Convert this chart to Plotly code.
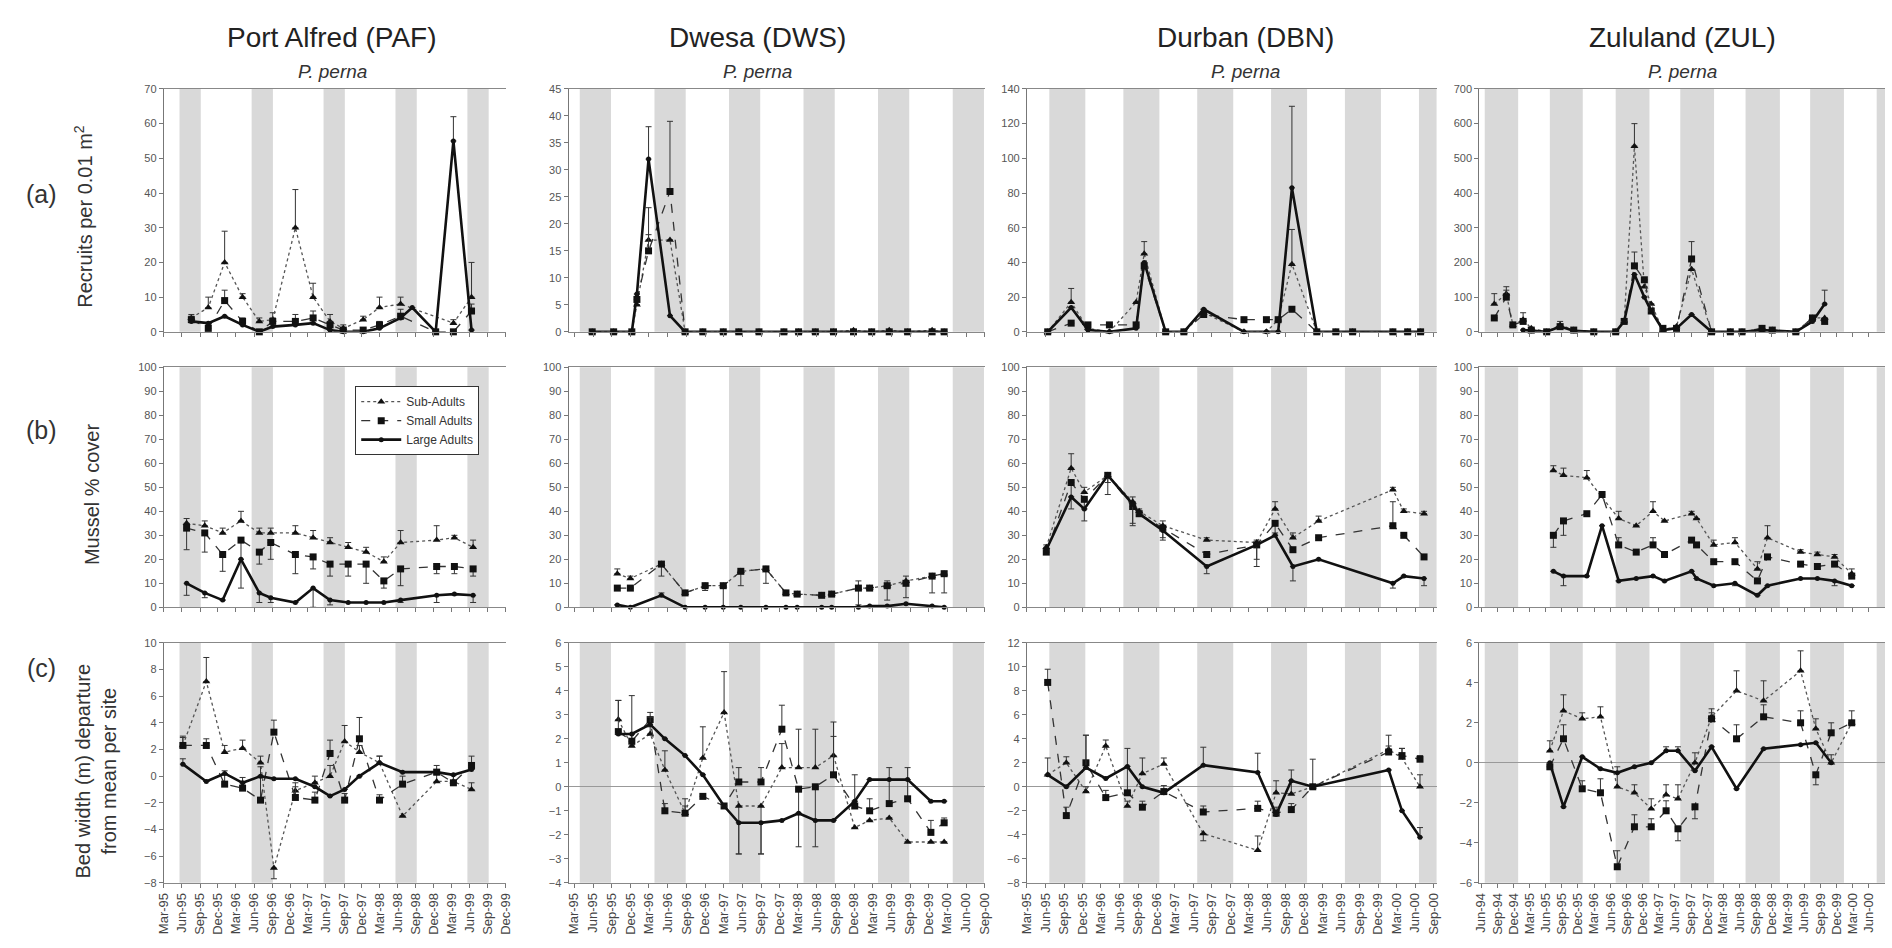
import plotly.graph_objects as go

# ------------------------------------------------------------------ text
SITES = ["Port Alfred (PAF)", "Dwesa (DWS)", "Durban (DBN)", "Zululand (ZUL)"]
SPECIES = ["P. perna", "P. perna", "P. perna", "P. perna"]
ROW_LABELS = ["(a)", "(b)", "(c)"]
Y_TITLES = ["Recruits per 0.01 m<sup>2</sup>", "Mussel % cover",
            "Bed width (m) departure<br>from mean per site"]
SERIES = ["Sub-Adults", "Small Adults", "Large Adults"]

# ------------------------------------------------------------------ x axes (per site)
X_START = ["1995-03-01", "1995-02-01", "1995-03-01", "1994-05-22"]
X_END = ["1999-12-02", "2000-09-03", "2000-09-15", "2000-08-31"]
TICK0 = ["1995-03-01", "1995-03-01", "1995-03-01", "1994-06-01"]

# shaded seasonal bands (per site)
PAF_BAND_START = ["1995-05-20", "1996-05-20", "1997-05-20", "1998-05-20", "1999-05-20"]
PAF_BAND_END = ["1995-09-05", "1996-09-05", "1997-09-05", "1998-09-05", "1999-09-05"]
DWS_BAND_START = ["1995-03-28", "1996-03-28", "1997-03-28", "1998-03-28", "1999-03-28", "2000-03-28"]
DWS_BAND_END = ["1995-08-28", "1996-08-28", "1997-08-28", "1998-08-28", "1999-08-28", "2000-08-28"]
DBN_BAND_START = ["1995-06-20", "1996-06-20", "1997-06-20", "1998-06-20", "1999-06-20", "2000-06-20"]
DBN_BAND_END = ["1995-12-15", "1996-12-15", "1997-12-15", "1998-12-15", "1999-12-15", "2000-12-15"]
ZUL_BAND_START = ["1994-06-22", "1995-06-25", "1996-07-01", "1997-07-01", "1998-07-05", "1999-07-05", "2000-07-15"]
ZUL_BAND_END = ["1994-12-28", "1995-12-28", "1997-01-08", "1998-01-08", "1999-01-15", "2000-01-12", "2001-01-10"]
BANDS = [(PAF_BAND_START, PAF_BAND_END), (DWS_BAND_START, DWS_BAND_END),
         (DBN_BAND_START, DBN_BAND_END), (ZUL_BAND_START, ZUL_BAND_END)]

# ------------------------------------------------------------------ y axes
Y_RANGES = [[(0, 70), (0, 45), (0, 140), (0, 700)],
            [(0, 100), (0, 100), (0, 100), (0, 100)],
            [(-8, 10), (-4, 6), (-8, 12), (-6, 6)]]
Y_DTICKS = [[10, 5, 20, 100], [10, 10, 10, 10], [2, 1, 2, 2]]

# ------------------------------------------------------------------ data
# errors: positive = upper bar, negative = lower bar

# ---- PAF (a) recruits
paf_a_dates = ["1995-07-19", "1995-10-13", "1996-01-04", "1996-04-04", "1996-06-28", "1996-09-04",
               "1996-12-28", "1997-03-28", "1997-06-22", "1997-08-28", "1997-12-07", "1998-02-28",
               "1998-06-15", "1998-08-13", "1998-12-10", "1999-03-10", "1999-06-10"]
paf_a_sub = [4, 7, 20, 10, 3, 3.5, 30, 10, 3, 1, 3.5, 7, 8, None, None, 2.5, 10]
paf_a_sub_err = [1, 3, 9, 1, 1, 2, 11, 4, 2, 1, 1, 3, 2, 0, 0, 1, 10]
paf_a_small = [3.5, 1, 9, 3, 0, 3, 3, 4, 2, 0.5, 0.5, 2, 4.5, None, 0, 0, 6]
paf_a_small_err = [1, 1, 3, 1, 0, 1, 2, 2, 1, 0.5, 0.5, 1, 2, 0, 0, 0, 2]
paf_a_large = [3, 2.5, 4.5, 2, 0, 1.5, 2, 2.5, 0.5, 0, 0, 1, 4, 7, 0, 55, 0.5]
paf_a_large_err = [0, 0, 0, 0, 0, 0, 0, 0, 0, 0, 0, 0, 0, 0, 0, 7, 0]

# ---- PAF (b) cover
paf_b_dates = ["1995-06-25", "1995-09-25", "1995-12-25", "1996-03-27", "1996-06-28", "1996-08-25",
               "1996-12-28", "1997-03-28", "1997-06-22", "1997-09-22", "1997-12-22", "1998-03-22",
               "1998-06-15", "1998-12-15", "1999-03-15", "1999-06-18"]
paf_b_sub = [35, 34, 31, 36, 31, 31, 31, 29, 27, 25, 23, 19, 27, 28, 29, 25]
paf_b_sub_err = [2, 2, 2, 4, 2, 2, 3, 3, 2, 2, 2, 2, 5, 6, 1, 3]
paf_b_small = [33, 31, 22, 28, 23, 27, 22, 21, 18, 18, 18, 11, 16, 17, 17, 16]
paf_b_small_err = [-9, -8, -7, -8, -5, -7, -8, -5, -5, -5, -8, -3, -7, -3, -3, -3]
paf_b_large = [10, 6, 3, 20, 6, 4, 2, 8, 3, 2, 2, 2, 3, 5, 5.5, 5]
paf_b_large_err = [-5, -2, 0, -12, -4, -2, 0, -8, -2, 0, 0, 0, -1, -3, 0, -3]

# ---- PAF (c) bed width
paf_c_dates = ["1995-06-06", "1995-10-03", "1996-01-04", "1996-04-04", "1996-07-04", "1996-09-10",
               "1996-12-28", "1997-04-06", "1997-06-22", "1997-09-04", "1997-11-18", "1998-02-28",
               "1998-06-25", "1998-12-15", "1999-03-10", "1999-06-10"]
paf_c_sub = [2.3, 7.1, 1.8, 2.1, 1.0, -6.9, -1.1, -0.5, 0.0, 2.6, 1.8, 1.0, -3.0, -0.4, -0.4, -1.0]
paf_c_sub_err = [0.6, 1.8, 0.5, 0.6, 0.5, -0.8, 0.6, 0.5, 0.8, 1.2, 0.5, 0.5, 0, 0.5, 0.5, 0.5]
paf_c_small = [2.3, 2.3, -0.6, -0.9, -1.8, 3.3, -1.6, -1.8, 1.7, -1.8, 2.8, -1.8, -0.6, 0.3, -0.5, 0.8]
paf_c_small_err = [0.7, 0.5, 1.0, 0.8, 2.5, 0.9, 0.8, 0.6, 1.0, 0.5, 1.6, 0.4, 0.6, 0.5, 0.6, 0.7]
paf_c_large = [0.9, -0.4, 0.2, -0.5, 0.0, -0.2, -0.2, -0.8, -1.5, -1.0, 0.0, 1.0, 0.3, 0.3, 0.1, 0.5]
paf_c_large_err = [0.4, 0, 0, 0, 0, 0, 0, 0, 0, 0, 0, 0.5, 0, 0, 0, 0]

# ---- DWS (a) recruits
dws_a_dates = ["1995-05-28", "1995-09-10", "1995-12-08", "1996-01-02", "1996-02-28", "1996-06-12",
               "1996-08-25", "1996-11-20", "1997-02-28", "1997-05-15", "1997-08-22", "1997-12-22",
               "1998-03-04", "1998-05-25", "1998-08-22", "1998-11-28", "1999-02-25", "1999-05-22",
               "1999-08-20", "1999-12-18", "2000-02-15"]
dws_a_sub = [0, 0, 0, 5, 17, 17, 0, 0, 0, 0, 0, 0, 0, 0, 0, 0.3, 0, 0.3, 0, 0.3, 0]
dws_a_sub_err = [0, 0, 0, 0, 6, 0, 0, 0, 0, 0, 0, 0, 0, 0, 0, 0, 0, 0, 0, 0, 0]
dws_a_small = [0, 0, 0, 6, 15, 26, 0, 0, 0, 0, 0, 0, 0, 0, 0, 0, 0, 0, 0, 0, 0]
dws_a_small_err = [0, 0, 0, 0, 3, 13, 0, 0, 0, 0, 0, 0, 0, 0, 0, 0, 0, 0, 0, 0, 0]
dws_a_large = [0, 0, 0, 7, 32, 3, 0, 0, 0, 0, 0, 0, 0, 0, 0, 0, 0, 0, 0, 0, 0]
dws_a_large_err = [0, 0, 0, 0, 6, 0, 0, 0, 0, 0, 0, 0, 0, 0, 0, 0, 0, 0, 0, 0, 0]

# ---- DWS (b) cover
dws_b_dates = ["1995-09-28", "1995-12-01", "1996-05-01", "1996-08-25", "1996-12-01", "1997-02-28",
               "1997-05-25", "1997-09-25", "1998-01-01", "1998-02-25", "1998-06-25", "1998-08-13",
               "1998-12-22", "1999-02-15", "1999-05-12", "1999-08-12", "1999-12-18", "2000-02-15"]
dws_b_sub = [14, 12, 18, 6, 9, 9, 15, 16, 6, 5.5, 5, 5.5, 8, 8, 9, 11, 13, 14]
dws_b_sub_err = [2, 1, 1, 0, 1, 0, 0, 0, 0, 0, 0, 0, 3, 0, 2, 2, 1, 1]
dws_b_small = [8, 8, 18, 6, 9, 9, 15, 16, 6, 5.5, 5, 5.5, 8, 8, 9, 10, 13, 14]
dws_b_small_err = [0, 0, -5, 0, -2, -9, -6, -6, 0, 0, 0, 0, -7, 0, -6, -6, -7, -8]
dws_b_large = [1, 0, 5, 0, 0, 0, 0, 0, 0, 0, 0, 0, 0, 0.5, 0.5, 1.5, 0.5, 0]
dws_b_large_err = [0, 0, 1, 0, 0, 0, 0, 0, 0, 0, 0, 0, 0, 0, 0, 0, 0, 0]

# ---- DWS (c) bed width
dws_c_dates = ["1995-10-03", "1995-12-08", "1996-03-07", "1996-05-18", "1996-08-25", "1996-11-20",
               "1997-03-04", "1997-05-15", "1997-09-01", "1997-12-12", "1998-03-04", "1998-05-25",
               "1998-08-22", "1998-12-04", "1999-02-15", "1999-05-22", "1999-08-20", "1999-12-12",
               "2000-02-15"]
dws_c_sub = [2.8, 1.7, 2.2, 0.7, -1.1, 1.2, 3.1, -0.8, -0.8, 0.8, 0.8, 0.8, 1.3, -1.7, -1.4, -1.3,
             -2.3, -2.3, -2.3]
dws_c_sub_err = [0.8, 0.5, 0.3, 0.8, 0.3, 1.3, 1.7, -2.0, -2.0, 1.0, 1.6, 1.6, 1.4, 0, 0, 0, 0, 0, 0]
dws_c_small = [2.3, 1.9, 2.8, -1.0, -1.1, -0.4, -0.8, 0.2, 0.2, 2.4, -0.1, 0.0, 0.5, -0.8, -1.0,
               -0.7, -0.5, -1.9, -1.5]
dws_c_small_err = [1.3, 1.9, 0.3, 0.3, 0.6, 0, 0, 0.6, 0.6, 1.0, -2.4, -2.5, 1.6, 1.3, 0.5, 1.5,
                   1.3, 0.5, 0.2]
dws_c_large = [2.2, 2.2, 2.6, 2.0, 1.3, 0.5, -0.8, -1.5, -1.5, -1.4, -1.1, -1.4, -1.4, -0.6, 0.3,
               0.3, 0.3, -0.6, -0.6]
dws_c_large_err = [0, 0, 0.3, 0, 0, 0, 0, -1.3, -1.3, 0, 0, 0, 0, 0, 0, 0, 0, 0, 0]

# ---- DBN (a) recruits
dbn_a_dates = ["1995-06-12", "1995-10-06", "1995-12-28", "1996-04-12", "1996-08-22", "1996-10-01",
               "1997-01-15", "1997-04-15", "1997-07-22", "1998-02-06", "1998-05-28", "1998-07-25",
               "1998-10-01", "1999-02-01", "1999-05-06", "1999-07-28", "2000-02-12", "2000-04-25",
               "2000-06-28"]
dbn_a_sub = [0, 17, 2, 0, 17, 45, 0, 0, 11, 0, 0, 7, 39, 0, 0, 0, 0, 0, 0]
dbn_a_sub_err = [0, 8, 0, 0, 0, 7, 0, 0, 2, 0, 0, 0, 20, 0, 0, 0, 0, 0, 0]
dbn_a_small = [0, 5, 4, 4, 4, 38, 0, 0, 10, 7, 7, 7, 13, 0, 0, 0, 0, 0, 0]
dbn_a_small_err = [0, 0, 0, 0, 0, 0, 0, 0, 0, 0, 0, 0, 0, 0, 0, 0, 0, 0, 0]
dbn_a_large = [0, 14, 1, 0, 2, 40, 0, 0, 13, 0, 0, 0, 83, 0, 0, 0, 0, 0, 0]
dbn_a_large_err = [0, 0, 0, 0, 0, 0, 0, 0, 0, 0, 0, 0, 47, 0, 0, 0, 0, 0, 0]

# ---- DBN (b) cover
dbn_b_dates = ["1995-06-05", "1995-10-06", "1995-12-10", "1996-04-04", "1996-08-05", "1996-09-06",
               "1997-01-01", "1997-08-06", "1998-04-10", "1998-07-10", "1998-10-06", "1999-02-10",
               "2000-02-12", "2000-04-06", "2000-07-15"]
dbn_b_sub = [25, 58, 48, 55, 44, 40, 34, 28, 27, 41, 29, 36, 49, 40, 39]
dbn_b_sub_err = [1, 6, 2, 1, 2, 1, 2, 1, 1, 3, 2, 2, 1, 1, 1]
dbn_b_small = [23, 52, 45, 55, 42, 39, 33, 22, 26, 35, 24, 29, 34, 30, 21]
dbn_b_small_err = [0, -11, -9, -8, -8, 0, -4, 0, -6, -4, 0, 0, 10, 0, 0]
dbn_b_large = [24, 46, 41, 55, 43, 39, 32, 17, 26, 30, 17, 20, 10, 13, 12]
dbn_b_large_err = [0, 0, 0, -3, -8, 0, -4, -3, -9, 0, -6, 0, -2, 0, -3]

# ---- DBN (c) bed width
dbn_c_dates = ["1995-06-12", "1995-09-12", "1995-12-18", "1996-03-25", "1996-07-10", "1996-09-22",
               "1997-01-06", "1997-07-20", "1998-04-15", "1998-07-15", "1998-09-28", "1999-01-12",
               "2000-01-22", "2000-03-28", "2000-06-25"]
dbn_c_sub = [1.0, 2.0, -0.4, 3.4, -1.6, 1.1, 1.9, -3.9, -5.3, -0.5, -0.6, 0.0, 3.1, 2.4, 0.0]
dbn_c_sub_err = [1.4, 0.5, 0.4, 0.5, 0.4, 1.3, 0.5, -0.6, 1.2, 1.0, 2.0, 0, 1.2, 0.8, 1.0]
dbn_c_small = [8.7, -2.4, 2.0, -0.9, -0.5, -1.7, -0.4, -2.1, -1.8, -2.2, -1.9, 0.0, 2.9, 2.6, 2.3]
dbn_c_small_err = [1.1, 0.7, 2.3, 0.6, 3.7, 0.5, 0.5, 0.5, 0.6, 0.5, 0.5, 2.3, 0.5, 0.6, 0.3]
dbn_c_large = [1.0, 0.0, 1.6, 0.7, 1.7, 0.0, -0.5, 1.8, 1.2, -2.3, 0.5, 0.0, 1.4, -2.0, -4.2]
dbn_c_large_err = [0, 0, 2.7, 0, 0, 0, 0, 1.5, 1.6, 0, 0, 0, 0, 0, 0.8]

# ---- ZUL (a) recruits
zul_a_dates = ["1994-08-15", "1994-10-22", "1994-11-28", "1995-01-25", "1995-03-12", "1995-06-07",
               "1995-08-22", "1995-11-07", "1996-02-28", "1996-07-01", "1996-08-18", "1996-10-15",
               "1996-12-10", "1997-01-18", "1997-03-25", "1997-06-10", "1997-09-03", "1997-12-25",
               "1998-04-10", "1998-06-15", "1998-10-06", "1998-12-03", "1999-04-15", "1999-07-18",
               "1999-09-25"]
zul_a_sub = [80, 110, 20, 35, 10, 0, 20, 5, 0, 0, 30, 535, 130, 80, 5, 15, 180, 0, 0, 0, 10, 5, 0, 40, 40]
zul_a_sub_err = [30, 20, 0, 20, 0, 0, 10, 0, 0, 0, 0, 65, 0, 0, 0, 0, 0, 0, 0, 0, 0, 0, 0, 0, 0]
zul_a_small = [40, 100, 20, 30, 5, 0, 15, 5, 0, 0, 30, 190, 150, 60, 10, 10, 210, 0, 0, 0, 10, 5, 0, 40, 30]
zul_a_small_err = [0, 20, 0, 0, 0, 0, 0, 0, 0, 0, 0, 40, 0, 0, 0, 0, 50, 0, 0, 0, 0, 0, 0, 0, 0]
zul_a_large = [None, None, None, 5, 3, 0, 15, 3, 0, 0, 30, 165, 100, 60, 5, 10, 50, 0, 0, 0, 5, 3, 0,
               30, 80]
zul_a_large_err = [0, 0, 0, 0, 0, 0, 0, 0, 0, 0, 0, 0, 0, 0, 0, 0, 0, 0, 0, 0, 0, 0, 0, 0, 40]

# ---- ZUL (b) cover
zul_b_dates = ["1995-07-15", "1995-09-10", "1996-01-20", "1996-04-15", "1996-07-18", "1996-10-25",
               "1997-01-28", "1997-04-03", "1997-09-03", "1997-10-01", "1998-01-06", "1998-05-06",
               "1998-09-10", "1998-11-06", "1999-05-12", "1999-08-15", "1999-11-20", "2000-02-25"]
zul_b_sub = [57, 55, 54, None, 37, 34, 40, 36, 39, 37, 26, 27, 16, 29, 23, 22, 21, 14]
zul_b_sub_err = [2, 3, 3, 0, 3, 0, 4, 0, 1, 0, 2, 2, 3, 5, 1, 1, 1, 2]
zul_b_small = [30, 36, 39, 47, 26, 23, 26, 22, 28, 26, 19, 19, 11, 21, 18, 17, 18, 13]
zul_b_small_err = [-5, -6, 0, 0, 3, 0, 3, 0, 0, 0, 0, 0, 0, 0, 0, 0, 0, 0]
zul_b_large = [15, 13, 13, 34, 11, 12, 13, 11, 15, 12, 9, 10, 5, 9, 12, 12, 11, 9]
zul_b_large_err = [0, -4, 0, 0, 0, 0, 0, 0, 0, 0, 0, -1, 0, 0, 0, 0, -2, 0]

# ---- ZUL (c) bed width
zul_c_dates = ["1995-06-25", "1995-09-10", "1995-12-25", "1996-04-06", "1996-07-10", "1996-10-15",
               "1997-01-18", "1997-04-12", "1997-06-18", "1997-09-22", "1997-12-25", "1998-05-15",
               "1998-10-15", "1999-05-12", "1999-08-06", "1999-11-01", "2000-02-25"]
zul_c_sub = [0.6, 2.6, 2.2, 2.3, -1.2, -1.5, -2.3, -1.6, -1.8, 0.0, 2.3, 3.6, 3.1, 4.6, 1.7, 0.0, 2.0]
zul_c_sub_err = [0.5, 0.8, 0.3, 0.5, 1.0, 0.4, 0.5, 0.5, 0.7, 0.5, 0.4, 1.0, 1.0, 1.0, 0.5, 0.4, 0.6]
zul_c_small = [-0.2, 1.2, -1.3, -1.5, -5.2, -3.2, -3.2, -2.4, -3.3, -2.2, 2.2, 1.2, 2.3, 2.0, -0.6,
               1.5, 2.0]
zul_c_small_err = [0, 0.7, 0.4, 0.7, 0.8, 0.6, 0.4, 0.5, -0.6, -0.6, 0.3, 0.7, 0.6, 0.6, -0.5, 0.5, 0]
zul_c_large = [0.0, -2.2, 0.3, -0.3, -0.5, -0.2, 0.0, 0.6, 0.6, -0.4, 0.8, -1.3, 0.7, 0.9, 1.0, 0.0,
               None]
zul_c_large_err = [0, 0, 0, 0, 0, 0, 0, 0.2, 0.2, 0, 0, 0, 0, 0, 0, 0, 0]

PANELS = [
    [(paf_a_dates, paf_a_sub, paf_a_sub_err, paf_a_small, paf_a_small_err, paf_a_large, paf_a_large_err),
     (dws_a_dates, dws_a_sub, dws_a_sub_err, dws_a_small, dws_a_small_err, dws_a_large, dws_a_large_err),
     (dbn_a_dates, dbn_a_sub, dbn_a_sub_err, dbn_a_small, dbn_a_small_err, dbn_a_large, dbn_a_large_err),
     (zul_a_dates, zul_a_sub, zul_a_sub_err, zul_a_small, zul_a_small_err, zul_a_large, zul_a_large_err)],
    [(paf_b_dates, paf_b_sub, paf_b_sub_err, paf_b_small, paf_b_small_err, paf_b_large, paf_b_large_err),
     (dws_b_dates, dws_b_sub, dws_b_sub_err, dws_b_small, dws_b_small_err, dws_b_large, dws_b_large_err),
     (dbn_b_dates, dbn_b_sub, dbn_b_sub_err, dbn_b_small, dbn_b_small_err, dbn_b_large, dbn_b_large_err),
     (zul_b_dates, zul_b_sub, zul_b_sub_err, zul_b_small, zul_b_small_err, zul_b_large, zul_b_large_err)],
    [(paf_c_dates, paf_c_sub, paf_c_sub_err, paf_c_small, paf_c_small_err, paf_c_large, paf_c_large_err),
     (dws_c_dates, dws_c_sub, dws_c_sub_err, dws_c_small, dws_c_small_err, dws_c_large, dws_c_large_err),
     (dbn_c_dates, dbn_c_sub, dbn_c_sub_err, dbn_c_small, dbn_c_small_err, dbn_c_large, dbn_c_large_err),
     (zul_c_dates, zul_c_sub, zul_c_sub_err, zul_c_small, zul_c_small_err, zul_c_large, zul_c_large_err)],
]

# ------------------------------------------------------------------ layout geometry (pixels)
W, H = 1892, 948
COL_PX = [(157, 502), (565, 985), (1027, 1440), (1483, 1892)]
ROW_PX = [(84, 330), (366, 609), (645, 888)]
TITLE_X = [327, 755, 1247, 1688]
ROW_LABEL_Y = [190, 429, 670]
YTITLE_POS = [(76, 213), (84, 495), (89, 775)]

FONT = "Liberation Sans, Arial, sans-serif"
STYLES = [
    dict(line=dict(color="#555555", width=1.3, dash="dot"),
         marker=dict(symbol="triangle-up", size=7, color="#111111")),
    dict(line=dict(color="#333333", width=1.3, dash="dash"),
         marker=dict(symbol="square", size=7, color="#111111")),
    dict(line=dict(color="#111111", width=2.6, dash="solid"),
         marker=dict(symbol="circle", size=5, color="#111111")),
]


def split_err(errs):
    plus = [e if (e is not None and e > 0) else 0 for e in errs]
    minus = [-e if (e is not None and e < 0) else 0 for e in errs]
    return plus, minus


fig = go.Figure()
shapes = []
annotations = []
layout_axes = {}

for r in range(3):
    for c in range(4):
        n = r * 4 + c + 1
        xs = "" if n == 1 else str(n)
        dates, sub, sub_e, small, small_e, large, large_e = PANELS[r][c]
        for s, (vals, errs) in enumerate([(sub, sub_e), (small, small_e), (large, large_e)]):
            plus, minus = split_err(errs)
            fig.add_trace(go.Scatter(
                x=dates, y=vals, mode="lines+markers", name=SERIES[s],
                line=STYLES[s]["line"], marker=STYLES[s]["marker"],
                error_y=dict(type="data", symmetric=False, array=plus, arrayminus=minus,
                             color="#333333", thickness=1, width=3),
                connectgaps=True, cliponaxis=False,
                showlegend=(r == 1 and c == 0), legendgroup=SERIES[s],
                xaxis="x" + xs, yaxis="y" + xs))

        x0, x1 = COL_PX[c]
        y0, y1 = ROW_PX[r]
        layout_axes["xaxis" + xs] = dict(
            domain=[x0 / W, x1 / W], anchor="y" + xs, type="date",
            range=[X_START[c], X_END[c]], tick0=TICK0[c], dtick="M3", tickformat="%b-%y",
            tickangle=-90, showticklabels=(r == 2),
            tickfont=dict(family=FONT, size=13, color="#444444"),
            ticks="outside", ticklen=4, tickcolor="#777777",
            showline=True, linecolor="#888888", linewidth=1, mirror=True,
            showgrid=False, zeroline=False)
        lo, hi = Y_RANGES[r][c]
        layout_axes["yaxis" + xs] = dict(
            domain=[1 - y1 / H, 1 - y0 / H], anchor="x" + xs,
            range=[lo, hi], dtick=Y_DTICKS[r][c], tick0=0,
            tickfont=dict(family=FONT, size=11, color="#555555"),
            ticks="outside", ticklen=4, tickcolor="#777777",
            showline=True, linecolor="#777777", linewidth=1,
            showgrid=False,
            zeroline=(r == 2 and c > 0), zerolinecolor="#999999", zerolinewidth=1)

        bs, be = BANDS[c]
        for a, b in zip(bs, be):
            shapes.append(dict(type="rect", xref="x" + xs, yref="y" + xs + " domain",
                               x0=a, x1=b, y0=0, y1=1, fillcolor="#d9d9d9",
                               line=dict(width=0), layer="below"))

# titles
for c in range(4):
    annotations.append(dict(text=SITES[c], x=TITLE_X[c] / W, y=1 - 32 / H, xref="paper",
                            yref="paper", showarrow=False, xanchor="center", yanchor="middle",
                            font=dict(family=FONT, size=28, color="#222222")))
    annotations.append(dict(text="<i>" + SPECIES[c] + "</i>", x=TITLE_X[c] / W, y=1 - 66 / H,
                            xref="paper", yref="paper", showarrow=False, xanchor="center",
                            yanchor="middle", font=dict(family=FONT, size=19, color="#333333")))
for r in range(3):
    annotations.append(dict(text=ROW_LABELS[r], x=34 / W, y=1 - ROW_LABEL_Y[r] / H, xref="paper",
                            yref="paper", showarrow=False, xanchor="center", yanchor="middle",
                            font=dict(family=FONT, size=25, color="#333333")))
    px, py = YTITLE_POS[r]
    annotations.append(dict(text=Y_TITLES[r], x=px / W, y=1 - py / H, xref="paper", yref="paper",
                            showarrow=False, xanchor="center", yanchor="middle", textangle=-90,
                            font=dict(family=FONT, size=20, color="#333333")))

fig.update_layout(
    width=W, height=H, margin=dict(l=0, r=0, t=0, b=0),
    paper_bgcolor="white", plot_bgcolor="white",
    shapes=shapes, annotations=annotations,
    legend=dict(x=350 / W, y=1 - 385 / H, xanchor="left", yanchor="top",
                bgcolor="white", bordercolor="#333333", borderwidth=1,
                font=dict(family=FONT, size=12, color="#333333"),
                tracegroupgap=0, itemwidth=40),
    **layout_axes)

fig.write_html("out.html")
